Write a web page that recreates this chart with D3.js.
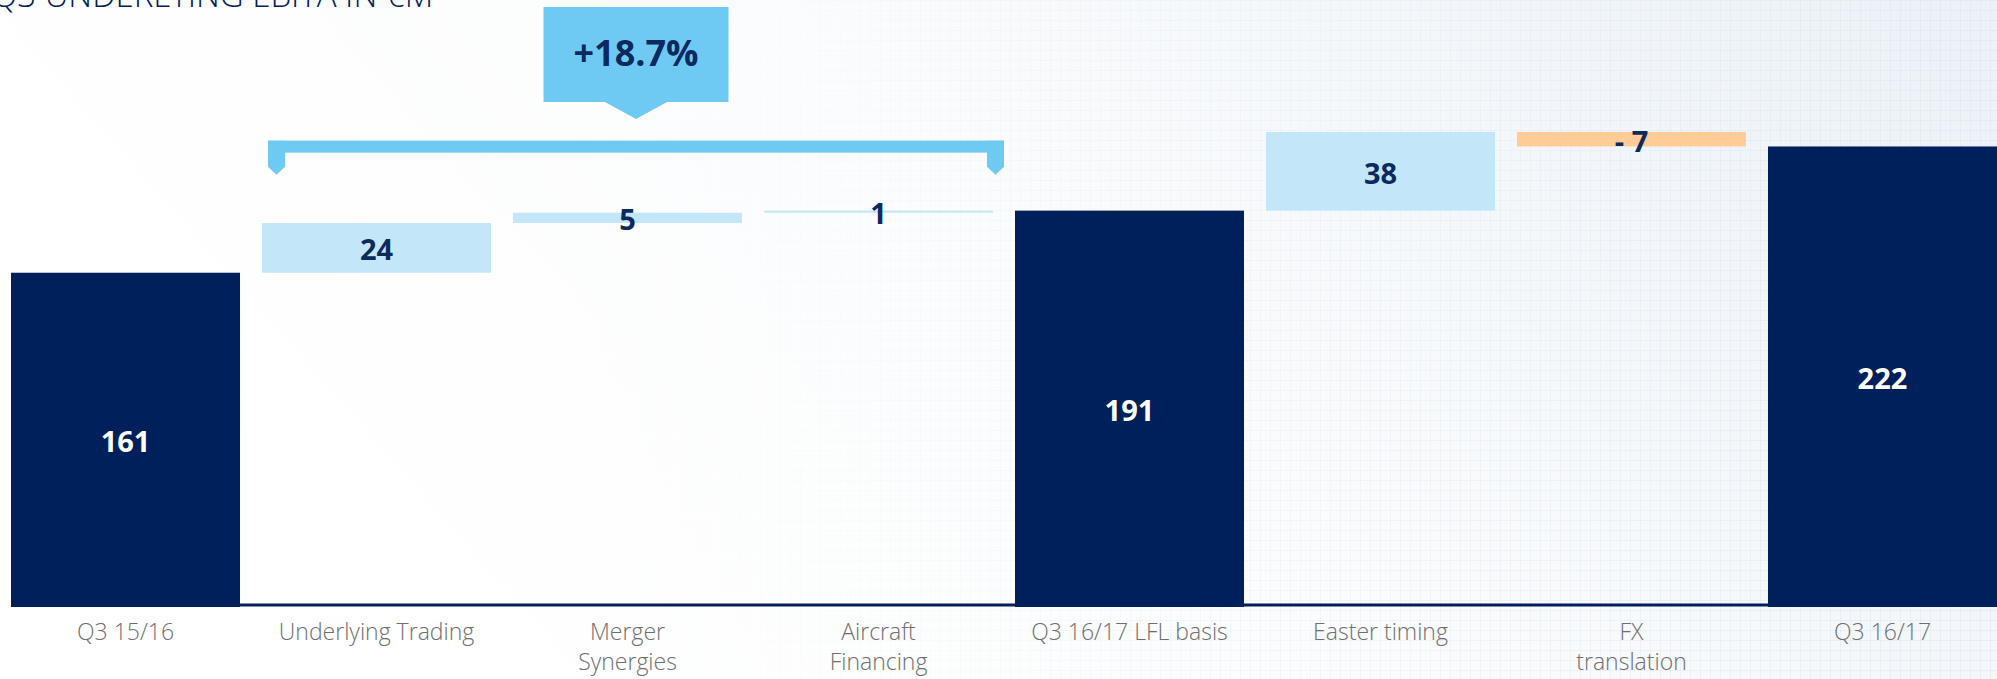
<!DOCTYPE html>
<html>
<head>
<meta charset="utf-8">
<script src="https://cdn.jsdelivr.net/npm/d3@7"></script>
<style>
  html, body { margin: 0; padding: 0; background: #fff; }
  svg { display: block; }
</style>
</head>
<body>
<svg id="chart" width="1997" height="679"></svg>
<script>
// waterfall data
const categories = ["Q3 15/16", "Underlying Trading", "Merger Synergies", "Aircraft Financing",
                    "Q3 16/17 LFL basis", "Easter timing", "FX translation", "Q3 16/17"]
const labelLines = [["Q3 15/16"], ["Underlying Trading"], ["Merger", "Synergies"], ["Aircraft", "Financing"],
                    ["Q3 16/17 LFL basis"], ["Easter timing"], ["FX", "translation"], ["Q3 16/17"]]
const values = [161, 24, 5, 1, 191, 38, -7, 222]
const kinds = ["total", "delta", "delta", "delta", "total", "delta", "delta", "total"]
const valueLabels = ["161", "24", "5", "1", "191", "38", "- 7", "222"]
const growthLabel = "+18.7%"
const growthSpan = ["Underlying Trading", "Aircraft Financing"]
const title = "Q3 UNDERLYING EBITA IN €M"

const navy = "#00205b"
const lightBlue = "#c4e6f9"
const brightBlue = "#6fcaf3"
const peach = "#ffcb97"

const width = 1997, height = 679

// running totals for the floating bars
let running = 0
const bars = categories.map((c, i) => {
  let y0, y1
  if (kinds[i] === "total") { y0 = 0; y1 = values[i]; running = values[i] }
  else { y0 = running; y1 = running + values[i]; running = y1 }
  return { cat: c, lo: Math.min(y0, y1), hi: Math.max(y0, y1), kind: kinds[i], v: values[i], label: valueLabels[i] }
})

const x = d3.scaleBand().domain(categories).range([11, 1997]).paddingInner(0.0876).paddingOuter(0)
const y = d3.scaleLinear().domain([0, 250]).range([606, 88.5])

const svg = d3.select("#chart")

// background: white fading to pale blue-grey with a faint grid texture
const defs = svg.append("defs")
const bg = defs.append("linearGradient").attr("id", "bg").attr("x1", 0).attr("x2", 1).attr("y1", 0.3).attr("y2", 0)
bg.append("stop").attr("offset", "0%").attr("stop-color", "#ffffff")
bg.append("stop").attr("offset", "45%").attr("stop-color", "#fbfcfd")
bg.append("stop").attr("offset", "100%").attr("stop-color", "#ebf1f7")
const dots = defs.append("pattern").attr("id", "dots").attr("width", 10).attr("height", 10).attr("patternUnits", "userSpaceOnUse")
dots.append("rect").attr("width", 1).attr("height", 10).attr("fill", "#dce5ee").attr("opacity", 0.5)
dots.append("rect").attr("width", 10).attr("height", 1).attr("fill", "#dce5ee").attr("opacity", 0.5)
const fade = defs.append("linearGradient").attr("id", "fade").attr("x1", 0).attr("x2", 1)
fade.append("stop").attr("offset", "30%").attr("stop-color", "#000")
fade.append("stop").attr("offset", "100%").attr("stop-color", "#fff")
defs.append("mask").attr("id", "fadeMask").append("rect")
  .attr("width", width).attr("height", height).attr("fill", "url(#fade)")

svg.append("rect").attr("width", width).attr("height", height).attr("fill", "url(#bg)")
svg.append("rect").attr("width", width).attr("height", height).attr("fill", "url(#dots)").attr("mask", "url(#fadeMask)")

// title, clipped by the top edge as on the slide
svg.append("text")
  .attr("x", -8).attr("y", 7)
  .attr("font-family", "Open Sans, sans-serif")
  .attr("font-weight", 300)
  .attr("font-size", 33)
  .attr("fill", navy)
  .text(title)

// bars
svg.append("g")
  .selectAll("rect")
  .data(bars)
  .join("rect")
    .attr("x", d => x(d.cat))
    .attr("width", x.bandwidth())
    .attr("y", d => y(d.hi))
    .attr("height", d => (d.kind === "total" ? y(d.lo) + 1 : y(d.lo)) - y(d.hi))
    .attr("fill", d => d.kind === "total" ? navy : (d.v < 0 ? peach : lightBlue))

// x axis: navy baseline, two-line category labels
const axis = svg.append("g")
  .attr("transform", `translate(0,${y(0) - 1.5})`)
  .call(d3.axisBottom(x).tickSize(0).tickSizeOuter(0).tickFormat(""))
axis.select(".domain").attr("stroke", navy).attr("stroke-width", 3)
axis.selectAll(".tick text").remove()
axis.selectAll(".tick").each(function (c) {
  const lines = labelLines[categories.indexOf(c)]
  const t = d3.select(this).append("text")
    .attr("text-anchor", "middle")
    .attr("font-family", "Open Sans, sans-serif")
    .attr("font-weight", 300)
    .attr("font-size", 23)
    .attr("fill", "#6f6f6f")
  lines.forEach((l, i) => t.append("tspan").attr("x", 0).attr("y", 35 + i * 30).text(l))
})

// value labels
svg.append("g")
  .selectAll("text")
  .data(bars)
  .join("text")
    .attr("x", d => x(d.cat) + x.bandwidth() / 2)
    .attr("y", d => (y(d.lo) + y(d.hi)) / 2 + 1)
    .attr("text-anchor", "middle")
    .attr("dominant-baseline", "central")
    .attr("font-family", "Open Sans, sans-serif")
    .attr("font-weight", 700)
    .attr("font-size", 29)
    .attr("fill", d => d.kind === "total" ? "#ffffff" : "#0b2a5e")
    .text(d => d.label)

// growth bracket over the like-for-like drivers
const bx0 = x(growthSpan[0]) + 6
const bx1 = x(growthSpan[1]) + x.bandwidth() + 11
const bTop = y(191) - 70
const armW = 17
const bracket = svg.append("g").attr("fill", brightBlue)
bracket.append("rect").attr("x", bx0).attr("y", bTop).attr("width", bx1 - bx0).attr("height", 12)
;[bx0, bx1 - armW].forEach(ax => {
  bracket.append("path")
    .attr("d", `M${ax},${bTop} h${armW} v26 l${-armW / 2},8 l${-armW / 2},-8 Z`)
})

// callout box with pointer
const cx = (bx0 + bx1) / 2
const boxW = 185, boxTop = 7, boxBottom = 102
svg.append("path")
  .attr("fill", brightBlue)
  .attr("d", `M${cx - boxW / 2},${boxTop} h${boxW} V${boxBottom} H${cx + 31} L${cx},${boxBottom + 17} L${cx - 31},${boxBottom} H${cx - boxW / 2} Z`)
svg.append("text")
  .attr("x", cx).attr("y", (boxTop + boxBottom) / 2 - 2)
  .attr("text-anchor", "middle")
  .attr("dominant-baseline", "central")
  .attr("font-family", "Open Sans, sans-serif")
  .attr("font-weight", 700)
  .attr("font-size", 36)
  .attr("fill", "#0b2a5e")
  .text(growthLabel)
</script>
</body>
</html>
